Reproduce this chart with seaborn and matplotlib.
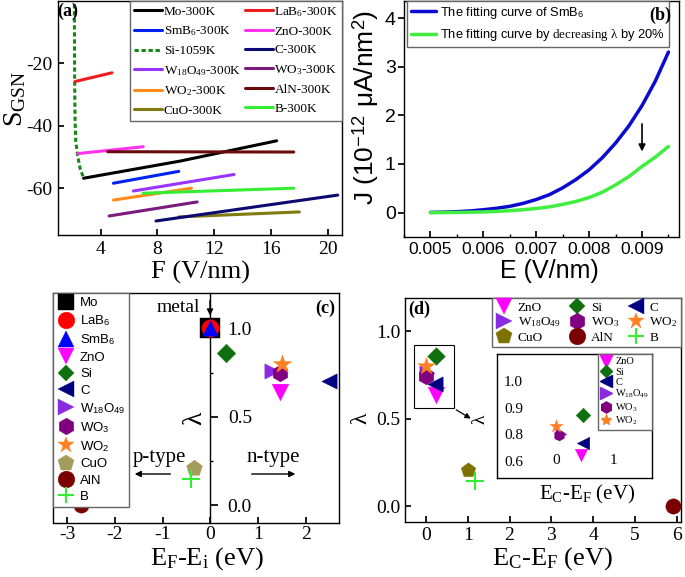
import matplotlib
matplotlib.use('Agg')
import matplotlib.pyplot as plt
import seaborn as sns
from matplotlib.lines import Line2D
from matplotlib.patches import Rectangle
from matplotlib.ticker import MultipleLocator

# ---- panel (a): S_GSN against F ----
f_mo, s_mo = [2.8, 9.6, 16.4], [-56.8, -51.3, -44.8]
f_lab6, s_lab6 = [2.2, 4.8], [-25.8, -23.0]
f_smb6, s_smb6 = [4.9, 9.5], [-58.4, -54.6]
f_zno, s_zno = [2.4, 7.0], [-48.9, -46.7]
f_si = [2.15, 2.16, 2.17, 2.2, 2.25, 2.38, 2.55, 2.8]
s_si = [-1.0, -12.0, -25.0, -38.0, -45.0, -49.5, -53.5, -56.8]
f_c, s_c = [7.9, 20.7], [-70.5, -62.2]
f_w18o49, s_w18o49 = [6.3, 13.4], [-60.9, -55.6]
f_wo3, s_wo3 = [4.6, 10.8], [-68.9, -64.4]
f_wo2, s_wo2 = [4.9, 10.4], [-63.8, -60.0]
f_aln, s_aln = [4.5, 17.6], [-48.3, -48.4]
f_cuo, s_cuo = [9.5, 18.0], [-69.2, -67.6]
f_b, s_b = [7.0, 17.6], [-61.6, -60.0]

# ---- panel (b): fitted J(E) curves ----
e_field = [0.005, 0.00525, 0.0055, 0.00575, 0.006, 0.00625, 0.0065, 0.00675, 0.007, 0.00725,
           0.0075, 0.00775, 0.008, 0.00825, 0.0085, 0.00875, 0.009, 0.00925, 0.0095]
j_smb6 = [0.005, 0.01, 0.02, 0.035, 0.06, 0.09, 0.13, 0.19, 0.27, 0.37,
          0.51, 0.68, 0.88, 1.13, 1.43, 1.78, 2.2, 2.7, 3.3]
j_low = [0.0, 0.002, 0.005, 0.009, 0.015, 0.025, 0.04, 0.06, 0.085, 0.12,
         0.17, 0.23, 0.31, 0.42, 0.57, 0.74, 0.95, 1.14, 1.36]
xt_b = [0.005, 0.006, 0.007, 0.008, 0.009]
xt_b_lab = ['0.005', '0.006', '0.007', '0.008', '0.009']

# ---- panels (c), (d): lambda of each emitter ----
mats = ['Mo', 'LaB6', 'SmB6', 'ZnO', 'Si', 'C', 'W18O49', 'WO3', 'WO2', 'CuO', 'AlN', 'B']
ef_ei = [0.0, 0.0, 0.0, 1.47, 0.33, 2.5, 1.3, 1.47, 1.5, -0.35, -2.72, -0.4]
lam = [1.0, 1.0, 1.0, 0.64, 0.86, 0.70, 0.76, 0.75, 0.80, 0.21, 0.0, 0.15]
mats_d = ['ZnO', 'W18O49', 'CuO', 'Si', 'WO3', 'AlN', 'C', 'WO2', 'B']
ec_ef = [0.25, 0.02, 1.01, 0.25, 0.0, 5.9, 0.22, 0.0, 1.17]
lam_d = [0.635, 0.76, 0.21, 0.856, 0.745, 0.0, 0.70, 0.80, 0.146]
mats_in = ['ZnO', 'Si', 'C', 'W18O49', 'WO3', 'WO2']
ec_ef_in = [0.44, 0.48, 0.48, 0.10, 0.05, 0.0]
lam_in = [0.723, 0.874, 0.768, 0.802, 0.797, 0.832]
yt_in = [0.7, 0.8, 0.9, 1.0]
yt_in_lab = ['0.6', '0.8', '0.9', '1.0']

sns.set_theme(style='ticks')
plt.rcParams.update({
    'font.family': ['Liberation Serif', 'DejaVu Serif'],
    'mathtext.fontset': 'custom',
    'mathtext.rm': 'Liberation Serif',
    'mathtext.it': 'Liberation Serif:italic',
    'mathtext.bf': 'Liberation Serif:bold',
    'mathtext.sf': 'Liberation Sans',
    'mathtext.default': 'rm',
    'axes.unicode_minus': False,
    'axes.edgecolor': 'black',
    'axes.linewidth': 1.0,
    'text.color': 'black',
    'axes.labelcolor': 'black',
    'xtick.color': 'black',
    'ytick.color': 'black',
    'legend.frameon': True,
    'legend.fancybox': False,
    'legend.edgecolor': '0.4',
    'legend.framealpha': 1.0,
})
SANS = ['Liberation Sans', 'DejaVu Sans']

pretty = {'Mo': 'Mo', 'LaB6': 'LaB$_6$', 'SmB6': 'SmB$_6$', 'ZnO': 'ZnO', 'Si': 'Si', 'C': 'C',
          'W18O49': 'W$_{18}$O$_{49}$', 'WO3': 'WO$_3$', 'WO2': 'WO$_2$', 'CuO': 'CuO',
          'AlN': 'AlN', 'B': 'B'}
pretty_sf = {'Mo': 'Mo', 'LaB6': 'LaB$_\\mathsf{6}$', 'SmB6': 'SmB$_\\mathsf{6}$', 'ZnO': 'ZnO',
             'Si': 'Si', 'C': 'C', 'W18O49': 'W$_\\mathsf{18}$O$_\\mathsf{49}$',
             'WO3': 'WO$_\\mathsf{3}$', 'WO2': 'WO$_\\mathsf{2}$', 'CuO': 'CuO', 'AlN': 'AlN', 'B': 'B'}
mk = {'Mo': 's', 'LaB6': 'o', 'SmB6': '^', 'ZnO': 'v', 'Si': 'D', 'C': '<', 'W18O49': '>',
      'WO3': 'h', 'WO2': '*', 'CuO': 'p', 'AlN': 'o', 'B': '+'}
col = {'Mo': 'black', 'LaB6': '#ff0000', 'SmB6': '#0000ff', 'ZnO': '#ff00ff', 'Si': '#107010',
       'C': '#000080', 'W18O49': '#8a2be2', 'WO3': '#800080', 'WO2': '#ff8020', 'CuO': '#7d7200',
       'AlN': '#7a0000', 'B': '#33ee33'}
col_c = dict(col, CuO='#a39c5c')
size_c = {'Mo': 15, 'LaB6': 12.5, 'SmB6': 11, 'ZnO': 12, 'Si': 9.5, 'C': 11, 'W18O49': 11,
          'WO3': 12, 'WO2': 14, 'CuO': 12, 'AlN': 11, 'B': 13}
size_d = {'ZnO': 12, 'Si': 9, 'C': 11, 'W18O49': 11, 'WO3': 12, 'WO2': 13, 'CuO': 11,
          'AlN': 11, 'B': 13}
size_in = {'ZnO': 9, 'Si': 7.5, 'C': 9, 'W18O49': 8, 'WO3': 8, 'WO2': 10}

fig = plt.figure(figsize=(6.85, 5.77), dpi=100)

# ================= (a) =================
ax = fig.add_axes([0.0847, 0.5927, 0.4146, 0.4055])
lines_a = [('Mo-300K', f_mo, s_mo, 'black'), ('SmB$_6$-300K', f_smb6, s_smb6, '#0022ee'),
           ('Si-1059K', f_si, s_si, '#148a14'), ('W$_{18}$O$_{49}$-300K', f_w18o49, s_w18o49, '#9933ff'),
           ('WO$_2$-300K', f_wo2, s_wo2, '#ff8c1a'), ('CuO-300K', f_cuo, s_cuo, '#807a10'),
           ('LaB$_6$-300K', f_lab6, s_lab6, '#ee1c1c'), ('ZnO-300K', f_zno, s_zno, '#ff33ee'),
           ('C-300K', f_c, s_c, '#0a0a70'), ('WO$_3$-300K', f_wo3, s_wo3, '#7a1a7a'),
           ('AlN-300K', f_aln, s_aln, '#6a0a0a'), ('B-300K', f_b, s_b, '#33ee33')]
for lab, f, s, c in lines_a:
    sns.lineplot(x=f, y=s, color=c, lw=2.2, sort=False, estimator=None, label=lab, ax=ax)
    if lab.startswith('Si'):
        ax.lines[-1].set_dashes([1.4, 0.9])
ax.set(xlim=(1, 21), ylim=(-75, 0), xlabel='', ylabel='')
ax.set_xticks([4, 8, 12, 16, 20])
ax.set_yticks([-60, -40, -20])
ax.tick_params(direction='in', length=4, labelsize=14, pad=4)
ax.set_xlabel('F (V/nm)', fontsize=19)
ax.xaxis.set_label_coords(0.5, -0.11)
ax.set_ylabel('S$_{\\mathrm{GSN}}$', fontsize=20)
ax.yaxis.set_label_coords(-0.105, 0.58)
h, l = ax.get_legend_handles_labels()
ax.legend(h, l, ncol=2, fontsize=9.5, loc='upper right', bbox_to_anchor=(1.0, 1.0),
          borderaxespad=0, handlelength=2.1, handletextpad=0.15, columnspacing=0.3,
          labelspacing=0.5, borderpad=0.3)
ax.text(0.035, 0.955, '(a)', transform=ax.transAxes, fontsize=13, fontweight='bold',
        ha='center', va='center')

# ================= (b) =================
ax = fig.add_axes([0.5898, 0.5893, 0.4015, 0.409])
sns.lineplot(x=e_field, y=j_smb6, color='#0a0ad0', lw=2.5, estimator=None,
             label='The fitting curve of SmB$_\\mathsf{6}$', ax=ax)
sns.lineplot(x=e_field, y=j_low, color='#40ee40', lw=2.5, estimator=None,
             label='The fitting curve by $\\mathrm{decreasing}\\ \\lambda$ by 20%', ax=ax)
ax.set(xlim=(0.0045, 0.0097), ylim=(-0.5, 4.35), xlabel='', ylabel='')
ax.set_xticks(xt_b, xt_b_lab)
ax.xaxis.set_minor_locator(MultipleLocator(0.0005))
ax.set_yticks([0, 1, 2, 3, 4])
ax.tick_params(axis='x', which='both', direction='in', labelsize=12.5, labelfontfamily='Liberation Sans')
ax.tick_params(axis='x', which='major', length=4)
ax.tick_params(axis='x', which='minor', length=2.5)
ax.tick_params(axis='y', direction='out', length=4, labelsize=14, labelfontfamily='Liberation Sans', pad=2)
ax.set_xlabel('E (V/nm)', fontsize=18, family=SANS)
ax.xaxis.set_label_coords(0.53, -0.095)
ax.set_ylabel('J (10$^{\\mathsf{-12}}$ μA/nm$^{\\mathsf{2}}$)', fontsize=19, family=SANS)
ax.yaxis.set_label_coords(-0.085, 0.55)
leg = ax.legend(loc='upper left', bbox_to_anchor=(0.01, 1.0), borderaxespad=0,
                prop={'family': SANS, 'size': 9.3}, handlelength=2.0, handletextpad=0.3,
                labelspacing=0.5, borderpad=0.3)
leg.set_zorder(5)
ax.annotate('', xy=(0.009, 1.2), xytext=(0.009, 1.88),
            arrowprops=dict(arrowstyle='-|>', color='black', lw=1.2, mutation_scale=10))
ax.text(0.93, 0.94, '(b)', transform=ax.transAxes, fontsize=13, fontweight='bold',
        ha='center', va='center', zorder=6)

# ================= (c) =================
ax = fig.add_axes([0.0774, 0.0936, 0.4175, 0.3986])
for m, x, y in zip(mats, ef_ei, lam):
    lw = 1.5 if mk[m] == '+' else 0.3
    sns.scatterplot(x=[x], y=[y], marker=mk[m], s=size_c[m] ** 2, color=col_c[m],
                    edgecolor=col_c[m], linewidth=lw, ax=ax, zorder=3)
ax.set(xlim=(-3.3, 2.7), ylim=(-0.1, 1.2), xlabel='', ylabel='')
ax.spines['left'].set_position(('data', 0))
ax.plot([0, 0], [0, 1], transform=ax.transAxes, color='black', lw=1.0, clip_on=False)
ax.set_xticks([-3, -2, -1, 0, 1, 2])
ax.set_yticks([0.0, 0.5, 1.0])
ax.yaxis.set_minor_locator(MultipleLocator(0.25))
ax.tick_params(axis='x', direction='in', length=4, labelsize=14, pad=2.5)
ax.tick_params(axis='y', which='both', direction='in', labelsize=14, pad=-30)
ax.tick_params(axis='y', which='minor', length=2.5)
ax.set_xlabel('E$_\\mathrm{F}$-E$_\\mathrm{i}$ (eV)', fontsize=19)
ax.xaxis.set_label_coords(0.537, -0.098)
ax.set_ylabel('λ', fontsize=20)
ax.yaxis.set_label_coords(0.54, 0.455)
hc = [Line2D([], [], ls='', marker=mk[m], color=col_c[m], mec=col_c[m],
             ms=(8.5 if mk[m] == 'D' else 12), mew=(1.5 if mk[m] == '+' else 0.3)) for m in mats]
leg = ax.legend(hc, [pretty_sf[m] for m in mats], loc='upper left', bbox_to_anchor=(0, 1),
                borderaxespad=0, prop={'family': SANS, 'size': 9.5}, labelspacing=0.32,
                handlelength=1.3, handletextpad=0.45, borderpad=0.3)
leg.set_zorder(5)
ax.annotate('', xy=(0.549, 0.89), xytext=(0.549, 0.98), xycoords='axes fraction',
            arrowprops=dict(arrowstyle='-|>', color='black', lw=1.0, mutation_scale=9))
ax.text(0.437, 0.935, 'metal', transform=ax.transAxes, fontsize=14, ha='center', va='center')
ax.text(0.372, 0.285, 'p-type', transform=ax.transAxes, fontsize=15, ha='center', va='center')
ax.text(0.769, 0.285, 'n-type', transform=ax.transAxes, fontsize=15, ha='center', va='center')
ax.annotate('', xy=(0.276, 0.213), xytext=(0.42, 0.213), xycoords='axes fraction',
            arrowprops=dict(arrowstyle='-|>', color='black', lw=1.0, mutation_scale=9))
ax.annotate('', xy=(0.857, 0.213), xytext=(0.685, 0.213), xycoords='axes fraction',
            arrowprops=dict(arrowstyle='-|>', color='black', lw=1.0, mutation_scale=9))
ax.text(0.951, 0.935, '(c)', transform=ax.transAxes, fontsize=13, fontweight='bold',
        ha='center', va='center')

# ================= (d) =================
ax = fig.add_axes([0.5912, 0.0953, 0.4029, 0.3882])
for m, x, y in zip(mats_d, ec_ef, lam_d):
    lw = 1.5 if mk[m] == '+' else 0.3
    sns.scatterplot(x=[x], y=[y], marker=mk[m], s=size_d[m] ** 2, color=col[m],
                    edgecolor=col[m], linewidth=lw, ax=ax, zorder=3)
ax.set(xlim=(-0.5, 6.1), ylim=(-0.09, 1.19), xlabel='', ylabel='')
ax.set_xticks([0, 1, 2, 3, 4, 5, 6])
ax.set_yticks([0.0, 0.5, 1.0])
ax.tick_params(direction='in', length=4, labelsize=14)
ax.set_xlabel('E$_\\mathrm{C}$-E$_\\mathrm{F}$ (eV)', fontsize=19)
ax.xaxis.set_label_coords(0.536, -0.105)
ax.set_ylabel('λ', fontsize=17)
ax.yaxis.set_label_coords(-0.12, 0.465)
hd = [Line2D([], [], ls='', marker=mk[m], color=col[m], mec=col[m],
             ms=(8.5 if mk[m] == 'D' else 12), mew=(1.5 if mk[m] == '+' else 0.3)) for m in mats_d]
leg = ax.legend(hd, [pretty[m] for m in mats_d], ncol=3, loc='upper right', bbox_to_anchor=(1, 1),
                borderaxespad=0, fontsize=9.5, labelspacing=0.15, handlelength=1.3,
                handletextpad=0.4, columnspacing=0.6, borderpad=0.25)
leg.set_zorder(5)
ax.add_patch(Rectangle((-0.29, 0.559), 0.96, 0.364, fill=False, lw=0.8, ec='black', zorder=1))
ax.annotate('', xy=(1.13, 0.493), xytext=(0.67, 0.559),
            arrowprops=dict(arrowstyle='-|>', color='black', lw=0.9, mutation_scale=8))
ax.text(0.05, 0.951, '(d)', transform=ax.transAxes, fontsize=13, fontweight='bold',
        ha='center', va='center')

# inset of (d)
axi = fig.add_axes([0.7251, 0.1721, 0.2267, 0.2139])
for m, x, y in zip(mats_in, ec_ef_in, lam_in):
    sns.scatterplot(x=[x], y=[y], marker=mk[m], s=size_in[m] ** 2, color=col[m],
                    edgecolor=col[m], linewidth=0.3, ax=axi, zorder=3)
axi.set(xlim=(-1.03, 1.68), ylim=(0.636, 1.102), xlabel='', ylabel='')
axi.set_xticks([0, 1])
axi.set_yticks(yt_in, yt_in_lab)
axi.tick_params(axis='both', length=0, labelsize=11)
axi.tick_params(axis='y', pad=-19)
axi.tick_params(axis='x', pad=-17)
axi.set_xlabel('E$_\\mathrm{C}$-E$_\\mathrm{F}$ (eV)', fontsize=15)
axi.xaxis.set_label_coords(0.58, -0.04)
axi.set_ylabel('λ', fontsize=14)
axi.yaxis.set_label_coords(-0.05, 0.47)
hi = [Line2D([], [], ls='', marker=mk[m], color=col[m], mec=col[m],
             ms=(6 if mk[m] == 'D' else 8)) for m in mats_in]
axi.legend(hi, [pretty[m] for m in mats_in], loc='upper right', bbox_to_anchor=(1, 1),
           borderaxespad=0, fontsize=7.5, labelspacing=0.1, handlelength=1.0,
           handletextpad=0.4, borderpad=0.25)

fig.savefig('out.png', dpi=100)
